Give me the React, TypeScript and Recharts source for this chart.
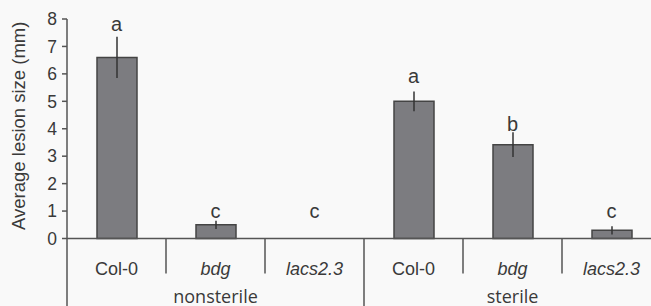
import {
  ComposedChart,
  Bar,
  Line,
  XAxis,
  YAxis,
  ErrorBar,
  LabelList,
} from "recharts";

const categories = ["Col-0", "bdg", "lacs2.3", "Col-0", "bdg", "lacs2.3"];
const italicNames = ["bdg", "lacs2.3"];
const groups = ["nonsterile", "sterile"];
const means = [6.6, 0.5, 0, 5.0, 3.42, 0.3];
const errors = [0.75, 0.15, 0, 0.36, 0.45, 0.15];
const letters = ["a", "c", "c", "a", "b", "c"];
const letterHeights = [7.55, 0.76, 0.76, 5.67, 3.9, 0.74];
const yTicks = [0, 1, 2, 3, 4, 5, 6, 7, 8];

const data = categories.map((name, i) => ({
  id: `${groups[Math.floor(i / 3)]}-${name}`,
  name,
  mean: means[i],
  err: errors[i],
  letter: letters[i],
  letterY: letterHeights[i],
}));

const W = 661;
const H = 306;
const AXIS_W = 67;
const BAND = (W - AXIS_W) / categories.length;
const LINE = "#555";
const TEXT = "#3a3a3a";

function CategoryTick(props: any) {
  const { x, y, payload } = props;
  const i = payload.index;
  const left = x - BAND / 2;
  const groupStart = i % 3 === 0;
  const name = categories[i];
  return (
    <g>
      <line
        x1={left}
        x2={left}
        y1={y}
        y2={groupStart ? H : y + 35}
        stroke={LINE}
        strokeWidth={1.5}
      />
      <text
        x={x}
        y={y + 36}
        textAnchor="middle"
        fill={TEXT}
        fontSize={18}
        fontStyle={italicNames.includes(name) ? "italic" : "normal"}
      >
        {name}
      </text>
      {i % 3 === 1 && (
        <text
          x={x}
          y={y + 64}
          textAnchor="middle"
          fill={TEXT}
          fontSize={18}
          fontFamily="Open Sans"
        >
          {groups[Math.floor(i / 3)]}
        </text>
      )}
    </g>
  );
}

function YTitle(props: any) {
  const { viewBox } = props;
  const cx = 18;
  const cy = viewBox.y + viewBox.height / 2 - 3;
  return (
    <text
      x={cx}
      y={cy}
      transform={`rotate(-90, ${cx}, ${cy})`}
      textAnchor="middle"
      dominantBaseline="central"
      fill={TEXT}
      fontSize={18.5}
    >
      Average lesion size (mm)
    </text>
  );
}

export default function App() {
  return (
    <div
      style={{
        position: "absolute",
        left: 0,
        top: 0,
        width: 651,
        height: H,
        overflow: "hidden",
        background: "#f9f9f9",
      }}
    >
      <ComposedChart
        width={W}
        height={H}
        data={data}
        margin={{ top: 19, right: 0, left: 0, bottom: 0 }}
        style={{ fontFamily: "'Liberation Sans', Arial, sans-serif" }}
      >
        <XAxis
          dataKey="id"
          height={67.5}
          interval={0}
          tickSize={0}
          tickMargin={0}
          tickLine={false}
          axisLine={{ stroke: LINE, strokeWidth: 1.5 }}
          tick={<CategoryTick />}
        />
        <YAxis
          width={AXIS_W}
          domain={[0, 8]}
          ticks={yTicks}
          interval={0}
          tickSize={5}
          tickMargin={5}
          axisLine={{ stroke: LINE, strokeWidth: 1.5 }}
          tickLine={{ stroke: LINE, strokeWidth: 1.5 }}
          tick={{ fill: TEXT, fontSize: 17.5 }}
          label={<YTitle />}
        />
        <Bar
          dataKey="mean"
          barSize={40}
          fill="#7c7c80"
          stroke="#444"
          strokeWidth={1.5}
          isAnimationActive={false}
        >
          <ErrorBar
            dataKey="err"
            width={0}
            stroke="#333"
            strokeWidth={1.5}
            direction="y"
          />
        </Bar>
        <Line
          dataKey="letterY"
          stroke="none"
          dot={false}
          activeDot={false}
          isAnimationActive={false}
        >
          <LabelList
            dataKey="letter"
            position="top"
            offset={0}
            fill={TEXT}
            fontSize={20}
          />
        </Line>
      </ComposedChart>
    </div>
  );
}
